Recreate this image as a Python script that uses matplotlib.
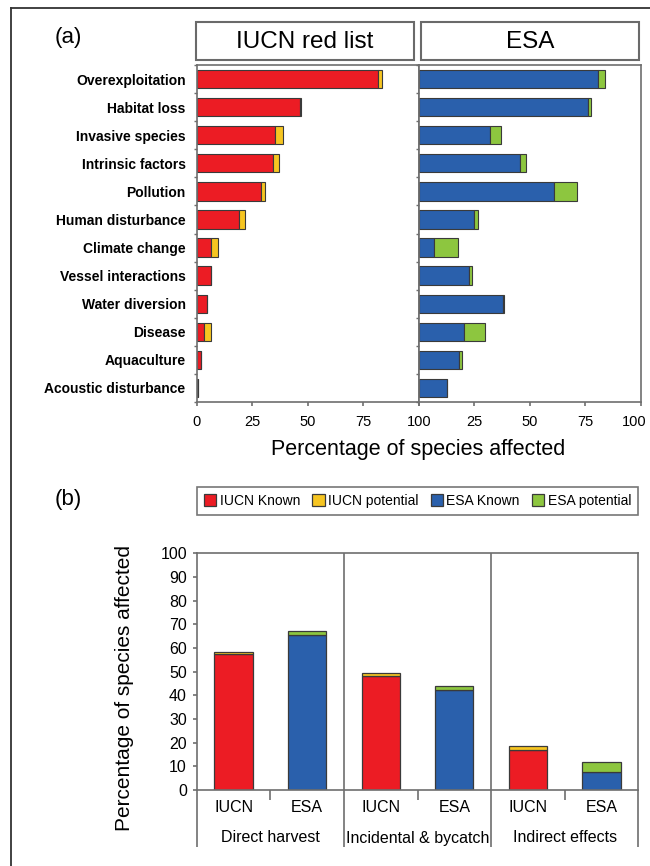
import matplotlib
matplotlib.use("Agg")
import matplotlib.pyplot as plt
from matplotlib.patches import Rectangle
from matplotlib.lines import Line2D
from matplotlib.transforms import ScaledTranslation
import numpy as np

# ---------------- data ----------------
threats = ["Overexploitation", "Habitat loss", "Invasive species", "Intrinsic factors",
           "Pollution", "Human disturbance", "Climate change", "Vessel interactions",
           "Water diversion", "Disease", "Aquaculture", "Acoustic disturbance"]
iucn_known = [81.8, 46.5, 35.3, 34.5, 29.0, 19.2, 6.3, 6.3, 4.8, 3.3, 1.8, 0.8]
iucn_potential = [1.5, 0.4, 3.4, 2.7, 1.6, 2.6, 3.2, 0.0, 0.0, 3.0, 0.0, 0.0]
esa_known = [81.0, 76.2, 32.0, 45.8, 61.0, 24.9, 6.8, 22.8, 37.9, 20.4, 18.0, 12.5]
esa_potential = [3.0, 1.3, 5.0, 2.5, 10.3, 2.0, 10.7, 1.0, 0.7, 9.5, 1.5, 0.0]

b_groups = ["Direct harvest", "Incidental & bycatch", "Indirect effects"]
b_lists = ["IUCN", "ESA", "IUCN", "ESA", "IUCN", "ESA"]
b_known = [57.6, 65.5, 48.0, 42.3, 16.7, 7.6]
b_potential = [0.8, 1.7, 1.5, 1.5, 2.0, 4.4]
b_is_iucn = [True, False, True, False, True, False]

x_ticks_a = [0, 25, 50, 75, 100]
y_ticks_b = list(range(0, 101, 10))

# ---------------- style ----------------
RED = "#EC1C24"
YEL = "#F6C521"
BLUE = "#2A60AC"
GREEN = "#8DC63F"
EDGE = "#3a3a3a"
SPINE = "#6e6e6e"
SANS = ["Liberation Sans", "DejaVu Sans"]
plt.rcParams["font.family"] = SANS

W, H = 650, 866
fig = plt.figure(figsize=(W / 100, H / 100), dpi=100)


def fx(px):
    return px / W


def fy(py):
    return 1 - py / H


def add_axes_px(x0, y0, x1, y1):
    return fig.add_axes([fx(x0), fy(y1), fx(x1) - fx(x0), (y1 - y0) / H])


# outer frame (top and left visible)
fig.add_artist(Line2D([fx(11), fx(650)], [fy(8), fy(8)], color="#333333", lw=1.3))
fig.add_artist(Line2D([fx(11), fx(11)], [fy(8), fy(866)], color="#333333", lw=1.3))

# ---------------- panel (a) ----------------
ypos = np.arange(len(threats))
axL = add_axes_px(196.7, 65, 418.8, 402)
axR = add_axes_px(418.8, 65, 640.5, 402)
bh = 0.65
for ax, known, pot, ck, cp in [(axL, iucn_known, iucn_potential, RED, YEL),
                               (axR, esa_known, esa_potential, BLUE, GREEN)]:
    ax.barh(ypos, known, height=bh, color=ck, edgecolor=EDGE, linewidth=0.8)
    ax.barh(ypos, pot, left=known, height=bh, color=cp, edgecolor=EDGE, linewidth=0.8)
    ax.set_xlim(0, 100)
    ax.set_ylim(len(threats) - 0.5, -0.5)
    for s in ax.spines.values():
        s.set_color(SPINE)
        s.set_linewidth(1.2)
    ax.set_xticks(x_ticks_a)
    ax.tick_params(axis="x", direction="out", length=3, width=1.2, color=SPINE,
                   labelsize=10.5, pad=6)
    ax.set_yticks(np.arange(len(threats) + 1) - 0.5, minor=True)
    ax.tick_params(axis="y", which="minor", direction="out", length=2.5, width=1, color=SPINE)

axL.set_yticks(ypos)
axL.set_yticklabels(threats, fontweight="bold", fontsize=10)
axL.tick_params(axis="y", which="major", length=0, pad=8)
axL.set_xticklabels([str(v) for v in x_ticks_a])
axR.set_yticks([])
axR.set_xticklabels([""] + [str(v) for v in x_ticks_a[1:]])
last = axR.get_xticklabels()[-1]
last.set_transform(last.get_transform() + ScaledTranslation(-6 / 100, 0, fig.dpi_scale_trans))

# header boxes
for (x0, x1, label) in [(196, 414.3, "IUCN red list"), (421, 639, "ESA")]:
    fig.add_artist(Rectangle((fx(x0), fy(60)), fx(x1) - fx(x0), 38.3 / H,
                             facecolor="white", edgecolor="#6a6a6a", lw=1.5))
    fig.text(fx((x0 + x1) / 2), fy(42), label, ha="center", va="center",
             fontsize=17.5)

fig.text(fx(68), fy(37), "(a)", ha="center", va="center", fontsize=16)
fig.text(fx(418), fy(450), "Percentage of species affected", ha="center", va="center",
         fontsize=15.5)

# ---------------- panel (b) ----------------
axB = add_axes_px(196.7, 553.3, 638.3, 790)
xb = np.arange(len(b_lists))
ck = [RED if i else BLUE for i in b_is_iucn]
cp = [YEL if i else GREEN for i in b_is_iucn]
axB.bar(xb, b_known, width=0.52, color=ck, edgecolor=EDGE, linewidth=0.9)
axB.bar(xb, b_potential, bottom=b_known, width=0.52, color=cp, edgecolor=EDGE,
        linewidth=0.9)
axB.set_xlim(-0.5, len(b_lists) - 0.5)
axB.set_ylim(0, 100)
axB.set_yticks(y_ticks_b)
axB.set_yticklabels([str(v) for v in y_ticks_b])
axB.tick_params(axis="y", direction="out", length=3, width=1.2, color=SPINE,
                labelsize=11.5, pad=4)
axB.set_xticks([])
for s in axB.spines.values():
    s.set_color(SPINE)
    s.set_linewidth(1.2)

px_per_unit = (790 - 553.3) / 100.0
bottom_ext = -(846.5 - 790) / px_per_unit
tick_ext = -(800 - 790) / px_per_unit
for xg in [-0.5, 1.5, 3.5, 5.5]:
    top = 100 if xg in (1.5, 3.5) else 0
    axB.plot([xg, xg], [top, bottom_ext], color=SPINE, lw=1.2, clip_on=False,
             solid_capstyle="butt")
for xm in [0.5, 2.5, 4.5]:
    axB.plot([xm, xm], [0, tick_ext], color=SPINE, lw=1.2, clip_on=False,
             solid_capstyle="butt")
for i, lab in enumerate(b_lists):
    axB.text(i, -(808 - 790) / px_per_unit, lab, ha="center", va="center", fontsize=11.5)
for g, lab in enumerate(b_groups):
    axB.text(2 * g + 0.5, -(838 - 790) / px_per_unit, lab, ha="center", va="center",
             fontsize=11.5)

fig.text(fx(125), fy(688), "Percentage of species affected", rotation=90,
         ha="center", va="center", fontsize=15)
fig.text(fx(68), fy(500), "(b)", ha="center", va="center", fontsize=16)

# legend
handles = [Rectangle((0, 0), 1, 1, facecolor=c, edgecolor=EDGE, lw=0.9)
           for c in [RED, YEL, BLUE, GREEN]]
labels = ["IUCN Known", "IUCN potential", "ESA Known", "ESA potential"]
leg = fig.legend(handles, labels, ncol=4, loc="center",
                 bbox_to_anchor=(fx(196.7), fy(516.7), fx(638.3) - fx(196.7), 31.7 / H),
                 mode="expand", frameon=True, fancybox=False, fontsize=10,
                 handlelength=0.9, handleheight=0.9, handletextpad=0.25,
                 columnspacing=0.8, borderpad=0.5, borderaxespad=0)
leg.get_frame().set_edgecolor("#555555")
leg.get_frame().set_linewidth(1.2)

fig.savefig("out.png", dpi=100)
